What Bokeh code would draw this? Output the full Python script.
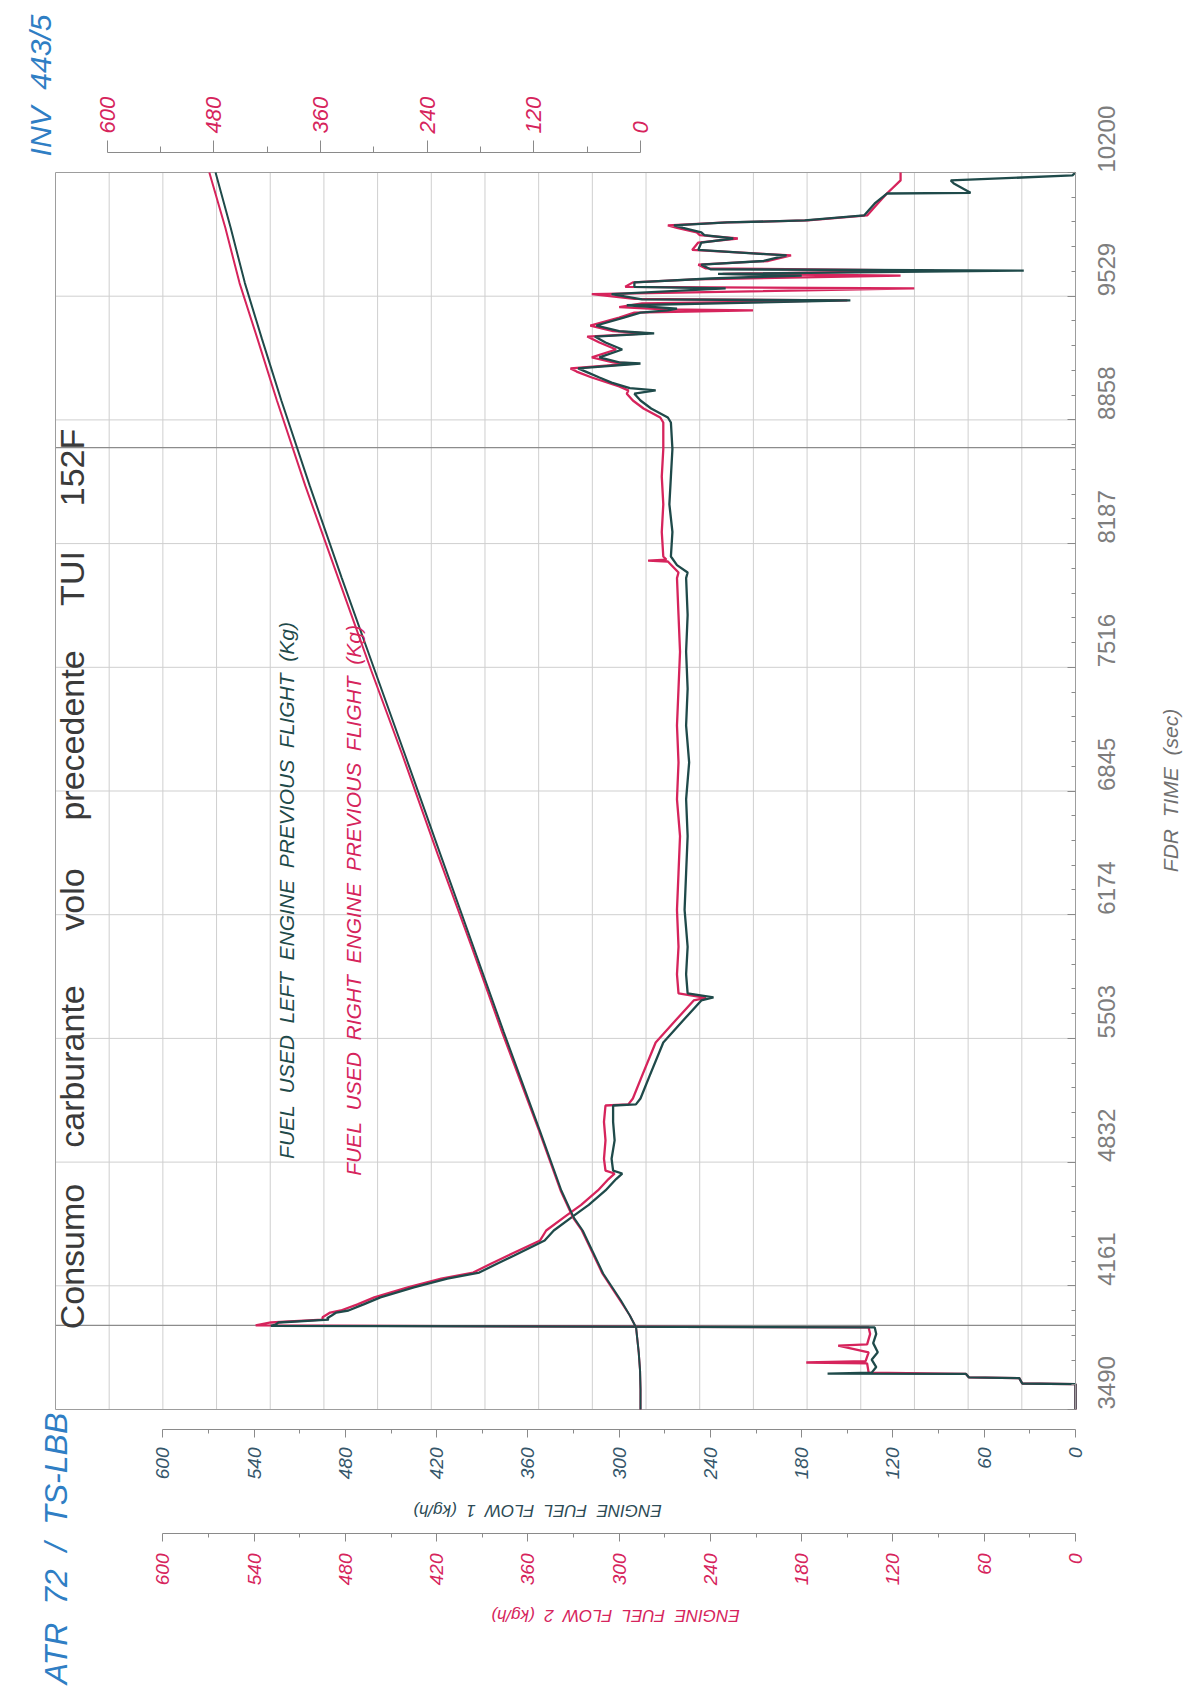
import math
from bokeh.plotting import figure
from bokeh.models import Range1d, LinearAxis, FixedTicker, Label, Grid
from bokeh.embed import file_html
from bokeh.resources import INLINE

# ---------------- data ----------------
time_ticks = [3490, 4161, 4832, 5503, 6174, 6845, 7516, 8187, 8858, 9529, 10200]
flow_ticks = [0, 60, 120, 180, 240, 300, 360, 420, 480, 540, 600]
inv_ticks = [0, 120, 240, 360, 480, 600]

# engine fuel flow 1 (kg/h), left engine
t_ff1 = [3490, 3628, 3631, 3660, 3664, 3683, 3685, 3690, 3720, 3760,
         3800, 3850, 3900, 3935, 3944, 3950, 3962, 3978, 3985, 4000,
         4016, 4027, 4060, 4098, 4152, 4200, 4233, 4282, 4325, 4407,
         4461, 4540, 4600, 4678, 4740, 4770, 4786, 4850, 4950, 5050,
         5139, 5145, 5177, 5300, 5481, 5600, 5709, 5725, 5747, 5850,
         6000, 6200, 6400, 6600, 6800, 7000, 7200, 7400, 7600, 7800,
         8000, 8030, 8070, 8117, 8250, 8400, 8550, 8700, 8844, 8871,
         8920, 8963, 9000, 9018, 9030, 9060, 9088, 9120, 9137, 9164,
         9170, 9197, 9240, 9278, 9310, 9327, 9340, 9370, 9413, 9440,
         9452, 9462, 9480, 9506, 9512, 9540, 9571, 9580, 9604, 9625,
         9641, 9650, 9668, 9675, 9700, 9720, 9750, 9780, 9820, 9842,
         9860, 9875, 9900, 9913, 9929, 9940, 9967, 10032, 10086, 10090,
         10140, 10157, 10184, 10200]
ff1 = [0, 0, 35, 37, 70, 72, 163, 134, 131, 134,
       130, 133, 131, 132, 529, 526, 524, 491, 492, 489,
       486, 478, 468, 457, 435, 413, 392, 380, 369, 349,
       343, 330, 320, 309, 302, 298, 304, 305, 303, 304,
       304, 289, 286, 280, 271, 258, 246, 238, 255, 256,
       255, 257, 256, 255, 256, 254, 256, 255, 256, 255,
       256, 255, 262, 266, 265, 267, 266, 265, 266, 268,
       279, 286, 290, 276, 293, 305, 313, 322, 327, 286,
       300, 313, 298, 309, 316, 277, 300, 315, 297, 286,
       268, 262, 295, 148, 285, 305, 230, 290, 290, 240,
       180, 235, 34, 240, 246, 205, 190, 248, 246, 225,
       244, 246, 258, 264, 229, 178, 139, 132, 124, 69,
       80, 82, 2, 0]

# engine fuel flow 2 (kg/h), right engine
t_ff2 = [3490, 3628, 3631, 3660, 3664, 3683, 3690, 3740, 3745, 3752,
         3800, 3837, 3843, 3900, 3935, 3946, 3962, 3978, 3990, 4016,
         4027, 4060, 4098, 4152, 4200, 4233, 4282, 4325, 4407, 4461,
         4540, 4600, 4678, 4740, 4770, 4786, 4850, 4950, 5050, 5139,
         5145, 5177, 5300, 5481, 5600, 5709, 5723, 5747, 5850, 6000,
         6200, 6400, 6600, 6800, 7000, 7200, 7400, 7600, 7800, 8000,
         8030, 8090, 8095, 8100, 8117, 8250, 8400, 8550, 8700, 8844,
         8871, 8920, 8963, 9000, 9018, 9040, 9088, 9120, 9137, 9164,
         9170, 9197, 9240, 9278, 9310, 9327, 9340, 9370, 9413, 9440,
         9452, 9458, 9470, 9490, 9506, 9515, 9540, 9571, 9580, 9604,
         9620, 9641, 9650, 9668, 9680, 9700, 9720, 9750, 9780, 9820,
         9842, 9860, 9875, 9900, 9913, 9929, 9940, 9967, 10032, 10086,
         10157, 10200]
ff2 = [0, 0, 35, 37, 70, 72, 136, 137, 177, 138,
       136, 156, 137, 135, 136, 539, 529, 495, 495, 490,
       483, 472, 461, 439, 417, 396, 384, 373, 352, 348,
       335, 325, 314, 307, 303, 309, 310, 309, 310, 309,
       294, 291, 285, 276, 263, 251, 243, 261, 262, 261,
       262, 261, 260, 262, 261, 262, 261, 260, 261, 262,
       261, 268, 281, 269, 271, 272, 271, 272, 271, 271,
       273, 284, 291, 295, 294, 300, 318, 328, 332, 290,
       304, 318, 302, 313, 321, 281, 304, 319, 300, 290,
       212, 270, 300, 285, 150, 290, 318, 106, 296, 291,
       250, 115, 232, 93, 243, 248, 202, 187, 252, 248,
       222, 247, 249, 262, 268, 229, 176, 137, 130, 124,
       115, 115]

# fuel used previous flight (kg), INV 443/5 scale
t_used = [3490, 3600, 3700, 3800, 3935, 4000, 4081, 4228, 4461, 4531,
          4678, 5000, 5540, 6000, 6500, 7043, 7500, 8000, 8500, 8963,
          9300, 9600, 9900, 10200]
used_left = [0, 0, 0.5, 2, 5, 12, 22, 42, 65, 75,
             89, 113, 154, 188, 225, 265, 299, 336, 372, 404,
             426, 445, 461, 478]
used_right = [0, 0, 0.5, 2, 5, 12, 23, 43, 66, 76,
              90, 114, 156, 190, 228, 268, 303, 340, 377, 409,
              431, 451, 467, 485]

event_times = [3946, 8708]

# ---------------- styling ----------------
DARK = "#1f4a4a"
RED = "#d6245c"
BLUE = "#2f7ec4"
GRAY = "#8a8a8a"
GRID = "#cfcfcf"
FONT = "Liberation Sans"
NB = "\u00a0"

W, H = 1184, 1694
T0, T1 = time_ticks[0], time_ticks[-1]
X_VIEW = 19 * 600 / 17  # plot area spans 19 paper-grid columns


# page pixel -> data helpers (plot area: x 55..1075, y 172..1409)
def vx(px):
    return (1075 - px) * X_VIEW / 1020


def ty(py):
    return T0 + (1409 - py) * (T1 - T0) / 1237


def ux(px):
    return (640 - px) / 0.889


p = figure(width=W, height=H, output_backend="svg", toolbar_location=None,
           x_range=Range1d(vx(0), vx(W)), y_range=Range1d(ty(H), ty(0)),
           x_axis_location=None, y_axis_location=None, min_border=0,
           background_fill_color="white", border_fill_color="white")
if p.title is not None:
    p.title.visible = False
p.center = [r for r in p.center if not isinstance(r, Grid)]
p.extra_x_ranges = {"inv": Range1d(ux(0), ux(W))}
p.outline_line_color = None

# paper grid, plot-area border and event markers
grid_x = [k * 600 / 17 for k in range(1, 19)]
p.segment(x0=grid_x, y0=[T0] * len(grid_x), x1=grid_x, y1=[T1] * len(grid_x),
          line_color=GRID, line_width=1)
inner_t = time_ticks[1:-1]
p.segment(x0=[X_VIEW] * len(inner_t), y0=inner_t, x1=[0] * len(inner_t), y1=inner_t,
          line_color=GRID, line_width=1)
p.segment(x0=[X_VIEW] * len(event_times), y0=event_times,
          x1=[0] * len(event_times), y1=event_times,
          line_color="#8c8c8c", line_width=1.3)
p.quad(left=[X_VIEW], right=[0], bottom=[T0], top=[T1], fill_color=None,
       line_color="#9d9d9d", line_width=1)

time_minor = [a + (b - a) * j / 5 for a, b in zip(time_ticks[:-1], time_ticks[1:]) for j in range(1, 5)]
flow_minor = [a + 30 for a in flow_ticks[:-1]]
inv_minor = [a + 60 for a in inv_ticks[:-1]]


def tick_axis(ticks, minor, color, size, **kw):
    return LinearAxis(ticker=FixedTicker(ticks=ticks, minor_ticks=minor),
                      major_label_orientation=math.pi / 2,
                      major_label_text_color=color,
                      major_label_text_font=FONT,
                      major_label_text_font_size=size,
                      axis_line_color=GRAY, major_tick_line_color=GRAY,
                      minor_tick_line_color=GRAY, **kw)


# top: INV 443/5 fuel-used scale
inv_axis = tick_axis(inv_ticks, inv_minor, RED, "22px", x_range_name="inv",
                     fixed_location=ty(152), bounds=(0, 600),
                     major_label_standoff=7, major_tick_out=12, major_tick_in=0,
                     minor_tick_out=6, minor_tick_in=0,
                     major_label_text_font_style="italic")
p.add_layout(inv_axis, "above")

# bottom: engine fuel flow 1 and 2
ff1_axis = tick_axis(flow_ticks, flow_minor, "#35566a", "19px",
                     fixed_location=ty(1429), bounds=(0, 600),
                     major_label_standoff=10, major_tick_out=8, major_tick_in=0,
                     minor_tick_out=4, minor_tick_in=0,
                     major_label_text_font_style="italic")
p.add_layout(ff1_axis, "below")
ff2_axis = tick_axis(flow_ticks, flow_minor, RED, "19px",
                     fixed_location=ty(1533), bounds=(0, 600),
                     major_label_standoff=12, major_tick_out=8, major_tick_in=0,
                     minor_tick_out=4, minor_tick_in=0,
                     major_label_text_font_style="italic")
p.add_layout(ff2_axis, "below")

# right: FDR time
t_axis = tick_axis(time_ticks, time_minor, "#7d7d7d", "24px",
                   fixed_location=0, bounds=(T0, T1),
                   major_label_standoff=31, major_tick_in=8, major_tick_out=0,
                   minor_tick_in=4, minor_tick_out=0)
t_axis.axis_line_color = "#9d9d9d"
p.add_layout(t_axis, "right")

# ---------------- series ----------------
p.line(ff2, t_ff2, line_color=RED, line_width=2.3)
p.line(ff1, t_ff1, line_color=DARK, line_width=2.3)
p.line(used_right, t_used, x_range_name="inv", line_color=RED, line_width=2)
p.line(used_left, t_used, x_range_name="inv", line_color=DARK, line_width=2)


# ---------------- texts ----------------
def add_text(txt, px, py, size, color, angle=math.pi / 2, style="italic"):
    p.add_layout(Label(x=vx(px), y=ty(py), text=txt, angle=angle,
                       text_align="center", text_baseline="middle",
                       text_font=FONT, text_font_size=f"{size}px",
                       text_font_style=style, text_color=color))


def spaced(s):
    return (NB + NB).join(s.split(" "))


title_words = [("Consumo", 1256), ("carburante", 1066), ("volo", 899),
               ("precedente", 735), ("TUI", 578), ("152F", 467)]
for w, py in title_words:
    add_text(w, 71, py, 34, "#3a3a3a", style="normal")

add_text(spaced("FUEL USED LEFT ENGINE PREVIOUS FLIGHT (Kg)"), 286, 890, 21, DARK)
add_text(spaced("FUEL USED RIGHT ENGINE PREVIOUS FLIGHT (Kg)"), 353, 900, 21, RED)
add_text(spaced("INV 443/5"), 40, 85, 30, BLUE)
add_text(spaced("ATR 72 / TS-LBB"), 55, 1548, 32, BLUE)
add_text(spaced("FDR TIME (sec)"), 1170, 790, 21, "#6f6f6f")
add_text(spaced("ENGINE FUEL FLOW 1 (kg/h)"), 537, 1510, 17, "#2d4b55", angle=math.pi)
add_text(spaced("ENGINE FUEL FLOW 2 (kg/h)"), 615, 1615, 17, RED, angle=math.pi)

open("out.html", "w").write(file_html(p, INLINE, "Consumo carburante volo precedente TUI 152F"))
